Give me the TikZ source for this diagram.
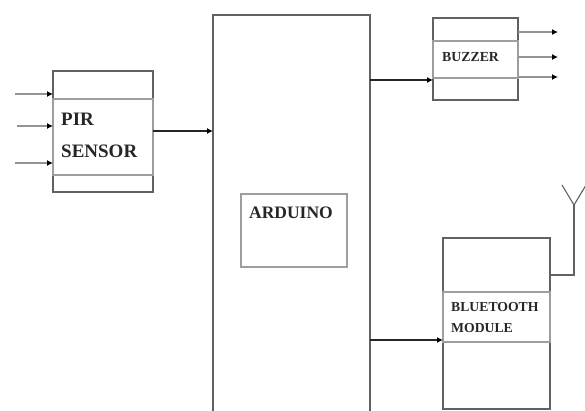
\documentclass[tikz,border=0pt]{standalone}
\usepackage{fontspec}
\setmainfont{Liberation Serif}
\usetikzlibrary{arrows.meta}
\tikzset{
  blockbox/.style={draw=black!62,line width=1.4pt,inner sep=0pt,outer sep=0pt},
  rowbox/.style={draw=black!38,line width=1.1pt,inner sep=0pt,outer sep=0pt},
  lbl/.style={anchor=west,align=left,inner sep=0pt,text=black!85},
  sig/.style={draw=black!42,line width=1.2pt,-{Latex[length=6pt,width=6pt,color=black]}},
  bus/.style={draw=black!85,line width=1.5pt,-{Latex[length=6pt,width=6pt,color=black]}},
  wire/.style={draw=black!62,line width=1.4pt},
}
\begin{document}
\begin{tikzpicture}[x=1pt,y=-1pt]
\useasboundingbox (0,0) rectangle (585,410);
% PIR sensor
\node[blockbox,minimum width=100pt,minimum height=121pt] (pir) at (103,131.5) {};
\node[rowbox,minimum width=100pt,minimum height=76pt] (pirrow) at (103,137) {};
\node[lbl,font=\bfseries\fontsize{19}{32}\selectfont] (pirtxt) at (61,135) {PIR\\SENSOR};
% arduino, its lower edge lies below the page
\node[blockbox,minimum width=157pt,minimum height=405pt] (ard) at (291.5,217.5) {};
\node[rowbox,minimum width=106pt,minimum height=73pt] (ardrow) at (294,230.5) {};
\node[lbl,font=\bfseries\fontsize{17.5}{20}\selectfont] (ardtxt) at (249,213) {ARDUINO};
% buzzer
\node[blockbox,minimum width=85pt,minimum height=82pt] (buz) at (475.5,59) {};
\node[rowbox,minimum width=85pt,minimum height=37pt] (buzrow) at (475.5,59.5) {};
\node[lbl,font=\bfseries\fontsize{13.8}{16}\selectfont] (buztxt) at (442,57) {BUZZER};
% bluetooth
\node[blockbox,minimum width=107pt,minimum height=171pt] (bt) at (496.5,323.5) {};
\node[rowbox,minimum width=107pt,minimum height=50pt] (btrow) at (496.5,317) {};
\node[lbl,font=\bfseries\fontsize{13.7}{21}\selectfont] (bttxt) at (451,317.5) {BLUETOOTH\\MODULE};
% free ends
\coordinate (in1) at (15,94);
\coordinate (in2) at (17,126);
\coordinate (in3) at (15,163);
\coordinate (out1) at (558,32);
\coordinate (out2) at (558,57);
\coordinate (out3) at (558,77);
\coordinate (ant) at (574,205);
\coordinate (antl) at (562,185);
\coordinate (antr) at (586,185);
\coordinate (btout) at (550,275);
\foreach \n in {in1,in2,in3}{\draw[sig] (\n) -- (\n -| pir.west);}
\foreach \n in {out1,out2,out3}{\draw[sig] (\n -| buz.east) -- (\n);}
\draw[bus,line width=2.4pt] (pir.east |- 0,131) -- (ard.west |- 0,131);
\draw[bus] (ard.east |- 0,80) -- (buz.west |- 0,80);
\draw[bus] (ard.east |- 0,340) -- (bt.west |- 0,340);
\draw[wire] (btout) -| (ant);
\draw[wire,line width=1.1pt] (antl) -- (ant) -- (antr);
\end{tikzpicture}
\end{document}
